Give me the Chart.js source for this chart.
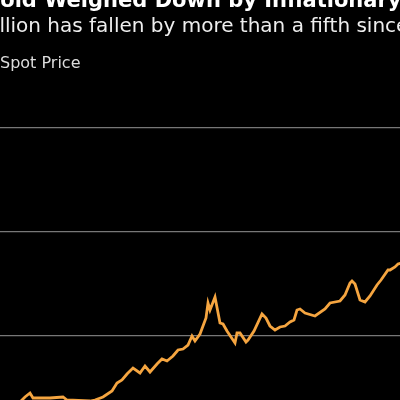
<!DOCTYPE html>
<html><head><meta charset="utf-8">
<script src="https://cdn.jsdelivr.net/npm/chart.js@4"></script>
<style>
html,body{margin:0;padding:0;background:#000;width:400px;height:400px;overflow:hidden;font-family:"DejaVu Sans",sans-serif;}
#wrap{position:absolute;left:0;top:0;width:400px;height:400px;}
.t{position:absolute;white-space:nowrap;color:#fff;}
</style></head><body>
<div id="wrap"><canvas id="c" width="400" height="400"></canvas></div>
<div class="t" style="left:-17px;top:-12px;font-size:21px;font-weight:bold;">Gold Weighed Down by Inflationary Pressures</div>
<div class="t" style="left:-27px;top:13px;font-size:20px;color:#eee;">Bullion has fallen by more than a fifth since</div>
<div class="t" style="left:0px;top:53px;font-size:16px;color:#ddd;">Spot Price</div>
<script>
const xs=[-5,10,20,25,30,33,50,63,67,90,95,103,112,117,122,127,133,140,145,150,157,162,167,173,178,183,188,192,195,200,206,208,210,215,220,223,227,235,237,240,246,248,254,262,266,270,275,280,285,290,294,297,300,305,315,325,330,340,345,350,352,355,360,365,370,377,381,388,390,395,398,405];
const pix=[404,403,402,397,393,398,398,397,400,401,400,397,391,383,380,374,368,373,366,372,364,359,361,356,350,349,345,336,341,334,318,303,310,297,323,324,331,343,333,333,342,340,331,314,318,326,330,327,326,322,320,310,309,313,316,309,303,301,295,283,281,284,300,302,296,285,280,270,270,267,264,262];
const gridVals=[64,168,272];
const values=pix.map(p=>400-p);
new Chart(document.getElementById('c'),{
 type:'line',
 data:{datasets:[{data:xs.map((x,i)=>({x:x,y:values[i]})),borderColor:'#f5a540',borderWidth:2.8,pointRadius:0,tension:0}]},
 options:{responsive:false,animation:false,layout:{padding:0},
  plugins:{legend:{display:false},tooltip:{enabled:false}},
  scales:{
   x:{type:'linear',min:0,max:400,display:false},
   y:{min:0,max:400,border:{display:false},grid:{color:'#777',lineWidth:1.2,drawTicks:false},ticks:{display:false},
      afterBuildTicks:s=>{s.ticks=gridVals.map(v=>({value:v}));},
      afterFit:s=>{s.width=0;}}
  }}
});
</script></body></html>
